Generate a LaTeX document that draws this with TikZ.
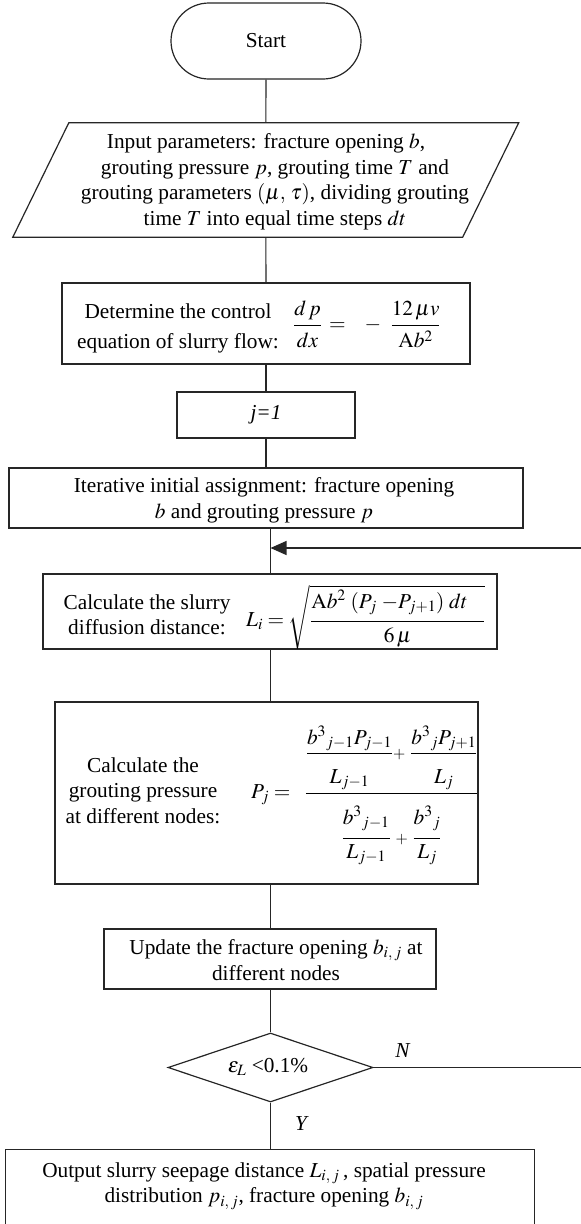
\documentclass[tikz,border=0pt]{standalone}
\usepackage{amsmath}
\usepackage{mathptmx}
\usepackage{fontspec}
\setmainfont{Liberation Serif}
\usetikzlibrary{shapes.geometric,arrows.meta}
\definecolor{lc}{gray}{0.15}
\newcommand\fs{\fontsize{21.3}{25.5}\selectfont}
\newcommand\nh[1]{\rule{0pt}{#1}}
\newcommand\nd[1]{\rule[-#1]{0pt}{#1}}
\begin{document}
\begin{tikzpicture}[x=1pt,y=-1pt,
  every node/.style={font=\fs, text=black},
  box/.style={draw=lc, line width=1.2pt, rectangle, inner sep=0pt},
  txt/.style={align=center, inner sep=0pt},
  conn/.style={draw=lc, line width=1.2pt}]
\useasboundingbox[fill=white] (0,0) rectangle (581,1224);

\node[box, rounded corners=38pt, minimum width=190pt, minimum height=76pt] (start) at (266,41) {Start};

\node[inner sep=0pt, minimum width=505.5pt, minimum height=114pt] (input) at (265.75,180) {};
\draw[lc, line width=1.2pt] ([xshift=56pt]input.north west) -- (input.north east) -- ([xshift=-56pt]input.south east) -- (input.south west) -- cycle;
\node[txt] (inputtxt) at (275,182) {Input parameters: fracture opening $b$,\hspace*{18pt}\\ grouting pressure $p$, grouting time $T$ and\\ grouting parameters $(\mu,\,\tau)$, dividing grouting\\ time $T$ into equal time steps $dt$};

\node[box, minimum width=408pt, minimum height=81pt] (det) at (266,323.5) {};
\node[txt, font=\fontsize{21.3}{30}\selectfont] (dettxt) at (178,328) {Determine the control\\ equation of slurry flow:};
\node[inner sep=0pt, anchor=base west] (deteq) at (293,330.3) {$\dfrac{d\,p}{\nh{20pt}d x}\,=\;\;\;-\;\;\dfrac{12\,\mu v}{\nh{20pt}\mathrm{A}b^2}$};

\node[box, minimum width=178pt, minimum height=46pt] (j1) at (266,415) {\textit{j=1}};

\node[box, minimum width=514pt, minimum height=60pt] (iter) at (266,498) {};
\node[txt] (itertxt) at (264,500.5) {Iterative initial assignment: fracture opening\\ $b$ and grouting pressure $p$};

\node[box, minimum width=454pt, minimum height=75pt] (calc) at (270,611.5) {};
\node[txt] (calctxt) at (147,615) {Calculate the slurry\\ diffusion distance:};
\node[inner sep=0pt, anchor=base west] (calceq) at (246,626.3) {$L_i = \sqrt{\dfrac{\mathrm{A}b^2\;(P_j\;{-}P_{j+1})\;dt\nd{10pt}\hspace{16pt}}{\nh{19pt}6\,\mu}}$};

\node[box, minimum width=423pt, minimum height=182pt] (pbox) at (266.5,793) {};
\node[txt] (ptxt) at (143,790.5) {Calculate the\\ grouting pressure\\ at different nodes:};
\node[inner sep=0pt, anchor=base west] (peq) at (251,798.3) {$P_j =\;\;\dfrac{\dfrac{{b^3}_{j-1}P_{j-1}}{\nh{27pt}L_{j-1}}{\scriptstyle +}\;\dfrac{{b^3}_{j}P_{j+1}}{\nh{27pt}L_j}}{\nh{48pt}\dfrac{{b^3}_{j-1}\nd{11pt}}{L_{j-1}}\;{\scriptstyle +}\;\dfrac{{b^3}_{j}\nd{11pt}}{L_j}}$};

\node[box, minimum width=332pt, minimum height=60pt] (upd) at (270,959) {};
\node[txt] (updtxt) at (276,960) {Update the fracture opening $b_{i,\,j}$ at\\ different nodes};

\node[draw=lc, line width=1.2pt, diamond, minimum width=205pt, minimum height=69pt, inner sep=0pt] (dec) at (270.5,1067.5) {};
\node[txt] (dectxt) at (268,1067) {$\epsilon_{L}$\ <0.1\%};
\node[txt] (nlab) at (403,1051) {\textit{N}};
\node[txt] (ylab) at (302,1124) {\textit{Y}};

\node[box, minimum width=529pt, minimum height=100pt, anchor=north] (out) at (270,1149) {};
\node[txt] (outtxt) at (264,1186) {Output slurry seepage distance $L_{i,\,j}$\,, spatial pressure\\ distribution $p_{i,\,j}$, fracture opening $b_{i,\,j}$};

\draw[conn] (start) -- (input);
\draw[conn] (input) -- (det);
\draw[conn] (det) -- (j1);
\draw[conn] (j1) -- (iter);
\draw[conn] (iter.south -| dec.north) -- (calc.north -| dec.north);
\draw[conn] (calc.south -| dec.north) -- (pbox.north -| dec.north);
\draw[conn] (pbox.south -| dec.north) -- (upd.north -| dec.north);
\draw[conn] (upd.south -| dec.north) -- (dec.north);
\draw[conn] (dec.south) -- (out.north -| dec.south);
\coordinate (loop) at (270.5,548);
\coordinate (farR) at (590,548);
\draw[conn, -{Triangle[length=16pt,width=14pt]}] (dec.east) -- (dec.east -| farR) -- (farR) -- (loop);
\end{tikzpicture}
\end{document}
